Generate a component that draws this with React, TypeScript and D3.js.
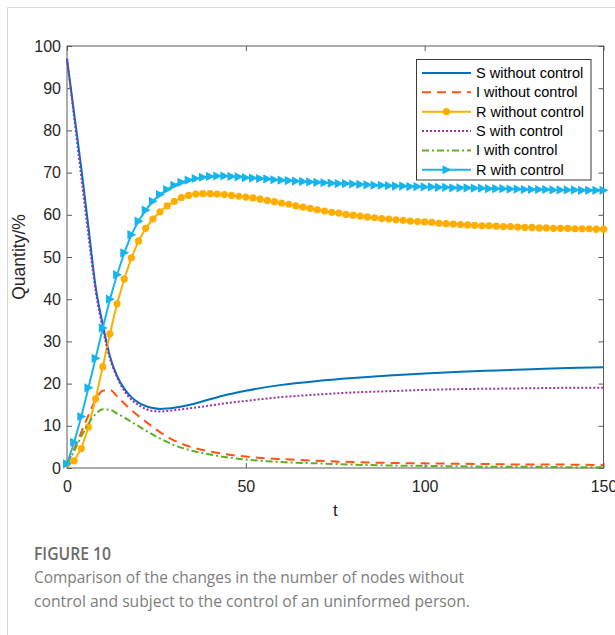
import * as d3 from "d3";
import { useEffect, useRef } from "react";

// sample times of the marked series (markers every 2 units of t)
const tDense = [0, 2, 4, 6, 8, 10, 12, 14, 16, 18, 20, 22, 24, 26, 28, 30, 32, 34, 36, 38, 40, 42, 44, 46, 48,
  50, 52, 54, 56, 58, 60, 62, 64, 66, 68, 70, 72, 74, 76, 78, 80, 82, 84, 86, 88, 90, 92, 94, 96, 98, 100,
  102, 104, 106, 108, 110, 112, 114, 116, 118, 120, 122, 124, 126, 128, 130, 132, 134, 136, 138, 140, 142,
  144, 146, 148, 150];

const rWithout = [1.0, 1.7, 4.6, 9.7, 16.4, 24.0, 31.8, 38.9, 44.8, 49.8, 53.8, 56.8, 59.0, 60.7, 62.1, 63.2,
  64.1, 64.6, 64.9, 65.0, 65.0, 64.9, 64.8, 64.6, 64.4, 64.2, 64.0, 63.7, 63.4, 63.1, 62.8, 62.5, 62.1, 61.8,
  61.5, 61.2, 60.9, 60.6, 60.4, 60.1, 59.9, 59.7, 59.5, 59.3, 59.1, 59.0, 58.8, 58.7, 58.5, 58.4, 58.3, 58.2,
  58.0, 57.9, 57.8, 57.7, 57.6, 57.5, 57.4, 57.4, 57.3, 57.2, 57.2, 57.1, 57.0, 57.0, 56.9, 56.9, 56.8, 56.8,
  56.8, 56.7, 56.7, 56.7, 56.6, 56.6];

const rWith = [1.0, 6.1, 12.2, 19.0, 26.0, 33.2, 40.0, 45.8, 51.0, 55.3, 58.5, 61.1, 63.2, 64.8, 66.0, 67.0,
  67.7, 68.2, 68.6, 68.9, 69.1, 69.2, 69.2, 69.1, 69.0, 68.8, 68.7, 68.6, 68.5, 68.3, 68.2, 68.1, 68.0, 67.9,
  67.8, 67.7, 67.6, 67.5, 67.4, 67.4, 67.3, 67.2, 67.1, 67.0, 67.0, 66.9, 66.8, 66.8, 66.7, 66.7, 66.6, 66.6,
  66.5, 66.5, 66.4, 66.4, 66.4, 66.3, 66.3, 66.2, 66.2, 66.2, 66.1, 66.1, 66.0, 66.0, 66.0, 66.0, 65.9, 65.9,
  65.9, 65.9, 65.8, 65.8, 65.8, 65.8];

// sample times of the plain line series
const tSparse = [0, 2, 4, 6, 8, 10, 12, 14, 16, 18, 20, 22, 24, 26, 28, 30, 35, 40, 45, 50, 60, 70, 80, 90,
  100, 110, 120, 130, 140, 150];

const sWithout = [97, 84, 71, 57, 43, 34, 26.5, 21.8, 18.8, 16.8, 15.5, 14.7, 14.2, 14.0, 14.1, 14.3, 15.1,
  16.3, 17.4, 18.3, 19.7, 20.6, 21.3, 21.9, 22.4, 22.8, 23.1, 23.4, 23.7, 23.9];
const iWithout = [1, 4.5, 8.5, 12.5, 16.2, 18.3, 18.5, 17.0, 15.3, 13.7, 12.3, 11.0, 9.7, 8.5, 7.4, 6.5, 4.9,
  3.9, 3.2, 2.7, 2.1, 1.7, 1.4, 1.2, 1.1, 1.0, 0.9, 0.8, 0.8, 0.7];
const sWith = [97, 83, 69, 55, 42, 33, 26, 21.5, 18.3, 16.2, 14.9, 14.0, 13.5, 13.4, 13.5, 13.7, 14.2, 14.8,
  15.4, 15.9, 16.8, 17.4, 17.9, 18.2, 18.5, 18.7, 18.8, 18.9, 19.0, 19.0];
const iWith = [1, 4, 7.5, 10.5, 12.8, 13.9, 13.8, 12.9, 12.0, 10.9, 9.9, 8.9, 7.9, 7.0, 6.2, 5.4, 4.1, 3.2,
  2.5, 2.0, 1.4, 1.1, 0.8, 0.6, 0.5, 0.4, 0.3, 0.3, 0.2, 0.2];

const xTicks = [0, 50, 100, 150];
const yTicks = [0, 10, 20, 30, 40, 50, 60, 70, 80, 90, 100];

const seriesNames = ["S without control", "I without control", "R without control",
  "S with control", "I with control", "R with control"];

const captionTitle = "FIGURE 10";
const captionLines = [
  "Comparison of the changes in the number of nodes without",
  "control and subject to the control of an uninformed person.",
];

const FONT = "'Liberation Sans', Arial, Helvetica, sans-serif";
const CAPTION_FONT = "'Open Sans', 'Noto Sans', sans-serif";

const App = () => {
  const ref = useRef<SVGSVGElement>(null);

  useEffect(() => {
    const svg = d3.select(ref.current);
    svg.selectAll("*").remove();

    const W = 615, H = 635;
    const margin = { top: 46, bottom: 167, left: 67, right: 11.5 };

    svg.append("rect").attr("width", W).attr("height", H).attr("fill", "#fff");
    // рамка вокруг рисунка
    svg.append("path")
      .attr("d", `M7.5,${H} V7.5 H${W}`)
      .attr("fill", "none")
      .attr("stroke", "#d6d6d6");

    const x = d3.scaleLinear().domain([0, 150]).range([margin.left, W - margin.right]);
    const y = d3.scaleLinear().domain([0, 100]).range([H - margin.bottom, margin.top]);
    const [x0, x1] = x.range();
    const [y0, y1] = y.range();

    // оси: засечки внутрь со всех сторон
    const axisColor = "#5a5a5a";
    const styleAxis = (g: any, labels: boolean) => {
      g.select(".domain").remove();
      g.selectAll("line").attr("stroke", axisColor);
      g.selectAll("text")
        .attr("fill", "#262626")
        .style("font-family", FONT)
        .style("font-size", "16px");
      if (!labels) g.selectAll("text").remove();
    };

    svg.append("g").attr("transform", `translate(0,${y0})`)
      .call(d3.axisBottom(x).tickValues(xTicks).tickSize(-5).tickPadding(12.5))
      .call((g: any) => styleAxis(g, true));
    svg.append("g").attr("transform", `translate(0,${y1})`)
      .call(d3.axisTop(x).tickValues(xTicks).tickSize(-5))
      .call((g: any) => styleAxis(g, false));
    svg.append("g").attr("transform", `translate(${x0},0)`)
      .call(d3.axisLeft(y).tickValues(yTicks).tickSize(-5).tickPadding(6))
      .call((g: any) => styleAxis(g, true));
    svg.append("g").attr("transform", `translate(${x1},0)`)
      .call(d3.axisRight(y).tickValues(yTicks).tickSize(-5))
      .call((g: any) => styleAxis(g, false));

    svg.append("rect")
      .attr("x", x0).attr("y", y1)
      .attr("width", x1 - x0).attr("height", y0 - y1)
      .attr("fill", "none").attr("stroke", axisColor);

    // подписи осей
    svg.append("text")
      .attr("x", (x0 + x1) / 2).attr("y", 516)
      .attr("text-anchor", "middle")
      .attr("fill", "#262626")
      .style("font-family", FONT).style("font-size", "17px")
      .text("t");
    svg.append("text")
      .attr("transform", `translate(25,${(y0 + y1) / 2}) rotate(-90)`)
      .attr("text-anchor", "middle")
      .attr("fill", "#262626")
      .style("font-family", FONT).style("font-size", "17.5px")
      .text("Quantity/%");

    const series = [
      { name: seriesNames[0], t: tSparse, v: sWithout, color: "#0072BD", dash: null, marker: null },
      { name: seriesNames[1], t: tSparse, v: iWithout, color: "#FF5416", dash: "9,6", marker: null },
      { name: seriesNames[2], t: tDense, v: rWithout, color: "#FFAE00", dash: null, marker: "circle" },
      { name: seriesNames[3], t: tSparse, v: sWith, color: "#9B30A8", dash: "2,2", marker: null },
      { name: seriesNames[4], t: tSparse, v: iWith, color: "#5FAE25", dash: "7,3,2,3", marker: null },
      { name: seriesNames[5], t: tDense, v: rWith, color: "#17B5EC", dash: null, marker: "triangle" },
    ];

    const triangle = "M-4,-4.6 L5,0 L-4,4.6 Z";

    const drawMarker = (sel: any, kind: string, color: string) => {
      if (kind === "circle") {
        sel.append("circle").attr("r", 3.6).attr("fill", color);
      } else {
        sel.append("path").attr("d", triangle).attr("fill", color);
      }
    };

    series.forEach(s => {
      const pts = s.t.map((t, i) => [t, s.v[i]] as [number, number]);
      const line = d3.line<[number, number]>()
        .x(d => x(d[0]))
        .y(d => y(d[1]))
        .curve(s.marker ? d3.curveLinear : d3.curveMonotoneX);
      svg.append("path")
        .attr("d", line(pts))
        .attr("fill", "none")
        .attr("stroke", s.color)
        .attr("stroke-width", 2)
        .attr("stroke-dasharray", s.dash);
      if (s.marker) {
        svg.append("g").selectAll("g")
          .data(pts)
          .enter()
          .append("g")
          .attr("transform", d => `translate(${x(d[0])},${y(d[1])})`)
          .each(function () { drawMarker(d3.select(this), s.marker as string, s.color); });
      }
    });

    // легенда
    const lg = { x: 416.5, y: 59.5, w: 174.5, h: 120.5, rowY: 73, step: 19.35 };
    svg.append("rect")
      .attr("x", lg.x).attr("y", lg.y).attr("width", lg.w).attr("height", lg.h)
      .attr("fill", "#fff").attr("stroke", "#3a3a3a");
    series.forEach((s, i) => {
      const cy = lg.rowY + i * lg.step;
      svg.append("line")
        .attr("x1", 422).attr("x2", 471).attr("y1", cy).attr("y2", cy)
        .attr("stroke", s.color).attr("stroke-width", 2)
        .attr("stroke-dasharray", s.dash);
      if (s.marker) {
        const m = svg.append("g").attr("transform", `translate(446.5,${cy})`);
        drawMarker(m, s.marker, s.color);
      }
      svg.append("text")
        .attr("x", 476).attr("y", cy)
        .attr("dy", "0.35em")
        .attr("fill", "#000")
        .style("font-family", FONT).style("font-size", "14.5px")
        .text(s.name);
    });

    // подпись к рисунку
    svg.append("text")
      .attr("x", 34).attr("y", 560)
      .attr("fill", "#6b6b6b")
      .attr("textLength", 77).attr("lengthAdjust", "spacingAndGlyphs")
      .style("font-family", CAPTION_FONT)
      .style("font-size", "18px").style("font-weight", "600")
      .text(captionTitle);
    const captionWidths = [430, 436];
    captionLines.forEach((l, i) => {
      svg.append("text")
        .attr("x", 34).attr("y", 583 + i * 24)
        .attr("fill", "#7d7d7d")
        .attr("textLength", captionWidths[i]).attr("lengthAdjust", "spacingAndGlyphs")
        .style("font-family", CAPTION_FONT)
        .style("font-size", "16.5px")
        .text(l);
    });
  }, []);

  return (
    <svg ref={ref} width={615} height={635}
      style={{ position: "absolute", left: 0, top: 0, display: "block" }} />
  );
};

export default App;
